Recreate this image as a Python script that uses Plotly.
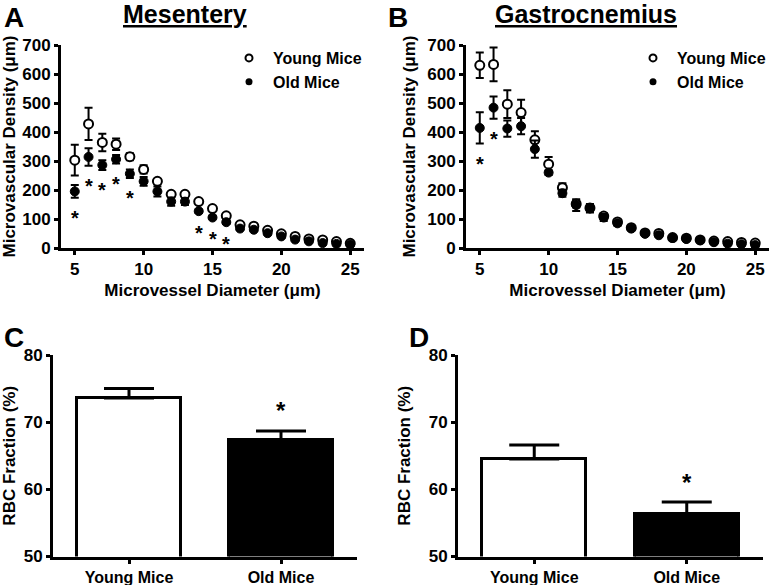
import plotly.graph_objects as go

# ---------------- data ----------------
diameter = [5, 6, 7, 8, 9, 10, 11, 12, 13, 14, 15, 16, 17, 18, 19, 20, 21, 22, 23, 24, 25]

mes_young = [303, 428, 364, 358, 315, 271, 230, 185, 185, 160, 136, 111, 80, 75, 61, 49, 40, 31, 28, 22, 16]
mes_young_err = [53, 56, 30, 20, 12, 14, 8, 8, 8, 6, 6, 5, 4, 4, 3, 3, 3, 3, 2, 2, 2]
mes_old = [195, 314, 286, 306, 256, 230, 195, 160, 160, 127, 105, 89, 67, 63, 51, 40, 29, 23, 17, 14, 12]
mes_old_err = [22, 30, 17, 15, 15, 15, 17, 14, 12, 6, 5, 5, 5, 4, 4, 3, 3, 3, 2, 2, 2]
mes_sig = [5, 6, 7, 8, 9, 14, 15, 16]

gas_young = [630, 633, 496, 467, 373, 289, 208, 152, 138, 110, 90, 70, 52, 50, 36, 34, 28, 24, 22, 19, 17]
gas_young_err = [44, 58, 48, 44, 30, 25, 15, 12, 12, 10, 6, 5, 4, 4, 3, 3, 3, 3, 3, 2, 2]
gas_old = [414, 484, 412, 420, 341, 260, 189, 148, 137, 105, 85, 67, 49, 44, 35, 31, 27, 20, 15, 13, 10]
gas_old_err = [54, 38, 28, 28, 30, 8, 12, 20, 15, 12, 8, 6, 5, 4, 3, 3, 3, 2, 2, 2, 2]
gas_sig = [5, 6]

groups = ["Young Mice", "Old Mice"]
group_pos = [0, 1]
rbc_mes = [73.6, 67.3]
rbc_mes_err = [1.4, 1.4]
rbc_gas = [64.5, 56.3]
rbc_gas_err = [2.1, 1.8]

# ---------------- style ----------------
FONT = "Liberation Sans, Arial, sans-serif"
BLACK = "#000000"

fig = go.Figure()


def add_density(xa, ya, young, young_err, old, old_err):
    fig.add_trace(go.Scatter(
        x=diameter, y=young, mode="markers", name="Young Mice", showlegend=False,
        xaxis=xa, yaxis=ya,
        marker=dict(symbol="circle", size=9, color="white", line=dict(color=BLACK, width=2)),
        error_y=dict(type="data", array=young_err, visible=True, color=BLACK, thickness=2, width=4),
    ))
    fig.add_trace(go.Scatter(
        x=diameter, y=old, mode="markers", name="Old Mice", showlegend=False,
        xaxis=xa, yaxis=ya,
        marker=dict(symbol="circle", size=9, color=BLACK, line=dict(color=BLACK, width=1)),
        error_y=dict(type="data", array=old_err, visible=True, color=BLACK, thickness=2, width=4),
    ))


add_density("x", "y", mes_young, mes_young_err, mes_old, mes_old_err)
add_density("x2", "y2", gas_young, gas_young_err, gas_old, gas_old_err)

# legend entries (smaller symbols as in the reference)
for leg, xa, ya in [("legend", "x", "y"), ("legend2", "x2", "y2")]:
    fig.add_trace(go.Scatter(
        x=[None], y=[None], mode="markers", name="Young Mice", legend=leg, legendgroup="a" + leg,
        xaxis=xa, yaxis=ya,
        marker=dict(symbol="circle", size=7, color="white", line=dict(color=BLACK, width=2)),
    ))
    fig.add_trace(go.Scatter(
        x=[None], y=[None], mode="markers", name="Old Mice", legend=leg, legendgroup="b" + leg,
        xaxis=xa, yaxis=ya,
        marker=dict(symbol="circle", size=7, color=BLACK),
    ))


def add_bars(xa, ya, vals, errs):
    fig.add_trace(go.Bar(
        x=group_pos, y=vals, width=0.68, showlegend=False, xaxis=xa, yaxis=ya,
        marker=dict(color=["white", BLACK], line=dict(color=BLACK, width=3)),
        error_y=dict(type="data", symmetric=False, array=errs, arrayminus=[0, 0],
                     visible=True, color=BLACK, thickness=3, width=25),
    ))


add_bars("x3", "y3", rbc_mes, rbc_mes_err)
add_bars("x4", "y4", rbc_gas, rbc_gas_err)

# ---------------- axes ----------------
tickfont = dict(family=FONT, size=17, color=BLACK, weight="bold")
titlefont = dict(family=FONT, size=17, color=BLACK, weight="bold")
common = dict(showline=True, linewidth=3, linecolor=BLACK, ticks="outside", ticklen=4,
              tickwidth=3, tickcolor=BLACK, showgrid=False, zeroline=False,
              tickfont=tickfont, fixedrange=True, automargin=False)

dens_x = dict(common, range=[4, 26], tickvals=[5, 10, 15, 20, 25],
              title=dict(text="Microvessel Diameter (μm)", font=titlefont, standoff=6))
dens_y = dict(common, range=[0, 700], tickvals=[0, 100, 200, 300, 400, 500, 600, 700],
              title=dict(text="Microvascular Density (μm)", font=titlefont, standoff=8))
bar_x = dict(common, range=[-0.5, 1.5], tickvals=group_pos, ticktext=groups,
             tickfont=dict(family=FONT, size=16, color=BLACK, weight="bold"))
bar_y = dict(common, range=[50, 80], tickvals=[50, 60, 70, 80],
             title=dict(text="RBC Fraction (%)", font=titlefont, standoff=14))

yA = [1 - 248 / 585, 1 - 45 / 585]
yC = [1 - 556.5 / 585, 1 - 355 / 585]

legfont = dict(family=FONT, size=16, color=BLACK, weight="bold")

fig.update_layout(
    width=771, height=585,
    margin=dict(l=0, r=0, t=0, b=0, autoexpand=False),
    paper_bgcolor="white", plot_bgcolor="white",
    font=dict(family=FONT, color=BLACK),
    bargap=0,
    xaxis=dict(dens_x, domain=[61 / 771, 364 / 771], anchor="y"),
    yaxis=dict(dens_y, domain=yA, anchor="x"),
    xaxis2=dict(dens_x, domain=[466 / 771, 769 / 771], anchor="y2"),
    yaxis2=dict(dens_y, domain=yA, anchor="x2"),
    xaxis3=dict(bar_x, domain=[53 / 771, 357 / 771], anchor="y3"),
    yaxis3=dict(bar_y, domain=yC, anchor="x3"),
    xaxis4=dict(bar_x, domain=[458 / 771, 763 / 771], anchor="y4"),
    yaxis4=dict(bar_y, domain=yC, anchor="x4"),
    legend=dict(x=225 / 771, y=1 - 41 / 585, xanchor="left", yanchor="top",
                font=legfont, bgcolor="rgba(0,0,0,0)", tracegroupgap=0, itemwidth=38),
    legend2=dict(x=629 / 771, y=1 - 41 / 585, xanchor="left", yanchor="top",
                 font=legfont, bgcolor="rgba(0,0,0,0)", tracegroupgap=0, itemwidth=38),
)

# ---------------- annotations ----------------
ann = []
# panel letters
for letter, px, py, anc in [("A", 2, 0, "top"), ("B", 386, 0, "top"),
                            ("C", 2, 337, "middle"), ("D", 407, 337, "middle")]:
    ann.append(dict(text=letter, x=px / 771, y=1 - py / 585, xref="paper", yref="paper",
                    xanchor="left", yanchor=anc, showarrow=False,
                    font=dict(family=FONT, size=28, color=BLACK, weight="bold")))
# panel titles
for title, cx in [("Mesentery", 185), ("Gastrocnemius", 586)]:
    ann.append(dict(text=title, x=cx / 771, y=1 - 14 / 585, xref="paper", yref="paper",
                    xanchor="center", yanchor="middle", showarrow=False,
                    font=dict(family=FONT, size=25, color=BLACK, weight="bold",
                              lineposition="under")))
# significance stars (density panels)
for sig, old, olderr, xr, yr in [(mes_sig, mes_old, mes_old_err, "x", "y"),
                                  (gas_sig, gas_old, gas_old_err, "x2", "y2")]:
    for d in sig:
        i = diameter.index(d)
        ann.append(dict(text="*", x=d, y=old[i] - olderr[i], xref=xr, yref=yr,
                        yanchor="middle", yshift=-20, showarrow=False,
                        font=dict(family=FONT, size=20, color=BLACK, weight="bold")))
# significance stars (bar panels)
for vals, errs, xr, yr in [(rbc_mes, rbc_mes_err, "x3", "y3"), (rbc_gas, rbc_gas_err, "x4", "y4")]:
    ann.append(dict(text="*", x=group_pos[1], y=vals[1] + errs[1], xref=xr, yref=yr,
                    yanchor="middle", yshift=20, showarrow=False,
                    font=dict(family=FONT, size=24, color=BLACK, weight="bold")))

fig.update_layout(annotations=ann)

fig.write_html("out.html", config={"displayModeBar": False},
               post_script="document.body.style.margin='0';document.body.style.overflow='hidden';")
